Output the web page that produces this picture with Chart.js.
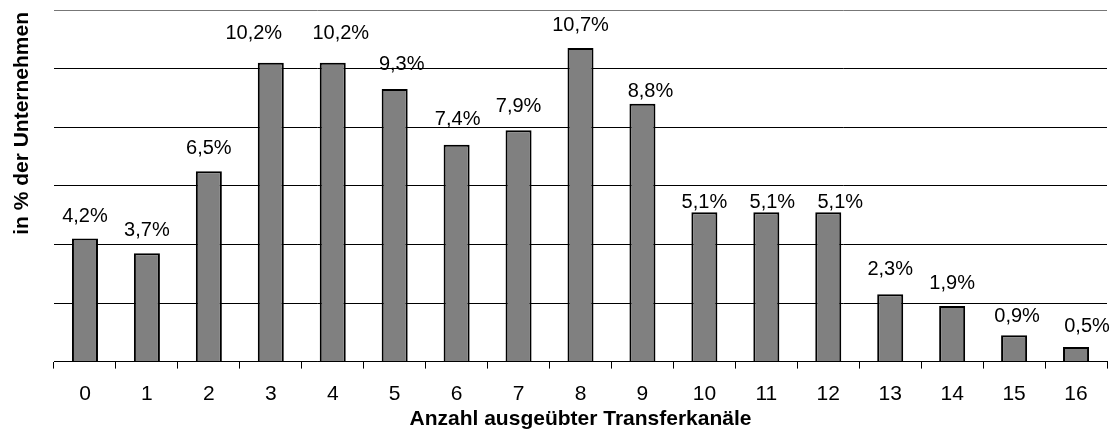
<!DOCTYPE html>
<html>
<head>
<meta charset="utf-8">
<script src="https://cdn.jsdelivr.net/npm/chart.js@4/dist/chart.umd.min.js"></script>
<style>
    html, body { margin: 0; padding: 0; background: #fff; }
    #wrap { width: 1114px; height: 435px; position: relative; }
</style>
</head>
<body>
<div id="wrap"><canvas id="transferChart"></canvas></div>
<script>
// Data
const categories = ['0', '1', '2', '3', '4', '5', '6', '7', '8', '9', '10', '11', '12', '13', '14', '15', '16'];
const shares = [4.2, 3.7, 6.5, 10.2, 10.2, 9.3, 7.4, 7.9, 10.7, 8.8, 5.1, 5.1, 5.1, 2.3, 1.9, 0.9, 0.5];
const valueLabels = ['4,2%', '3,7%', '6,5%', '10,2%', '10,2%', '9,3%', '7,4%', '7,9%', '10,7%', '8,8%', '5,1%', '5,1%', '5,1%', '2,3%', '1,9%', '0,9%', '0,5%'];
const yTitle = 'in % der Unternehmen';
const xTitle = 'Anzahl ausgeübter Transferkanäle';

// label nudges (px) relative to bar top, the original labels were placed by hand
const labelDx = [0, 0, 0, -17, 8, 7, 1, 0, 0, 8, 0, 6, 12, 0, 0, 3, 11];
const labelDy = [-22, -23, -23, -29, -29, -25, -25, -24, -23, -12, -10, -10, -10, -25, -22, -19, -20];

const FONT = '"Liberation Sans", Arial, sans-serif';

// draws the percentage labels above the bars + the y title (sits near the top, not centred)
const barLabels = {
    id: 'barLabels',
    afterDatasetsDraw(chart) {
        const ctx = chart.ctx;
        const meta = chart.getDatasetMeta(0);
        ctx.save();
        ctx.font = '20px ' + FONT;
        ctx.fillStyle = '#000';
        ctx.textAlign = 'center';
        ctx.textBaseline = 'middle';
        meta.data.forEach((bar, i) => {
            ctx.fillText(valueLabels[i], bar.x + labelDx[i], bar.y + labelDy[i]);
        });
        ctx.restore();

        ctx.save();
        ctx.font = 'bold 21px ' + FONT;
        ctx.fillStyle = '#000';
        ctx.translate(chart.chartArea.left - 32, chart.chartArea.top + 2);
        ctx.rotate(-Math.PI / 2);
        ctx.textAlign = 'right';
        ctx.textBaseline = 'middle';
        ctx.fillText(yTitle, 0, 0);
        ctx.restore();
    }
};

const ctx = document.getElementById('transferChart').getContext('2d');
new Chart(ctx, {
    type: 'bar',
    data: {
        labels: categories,
        datasets: [{
            data: shares,
            backgroundColor: '#808080',
            borderColor: '#000',
            borderWidth: 2,
            borderSkipped: 'bottom',
            barPercentage: 0.42,
            categoryPercentage: 1
        }]
    },
    options: {
        responsive: true,
        maintainAspectRatio: false,
        animation: false,
        layout: {
            padding: { top: 10, right: 7, bottom: 3, left: 54 }
        },
        plugins: {
            legend: { display: false },
            tooltip: { enabled: false }
        },
        scales: {
            x: {
                offset: true,
                grid: {
                    display: true,
                    offset: true,
                    drawOnChartArea: false,
                    drawTicks: true,
                    tickLength: 7,
                    color: '#000'
                },
                border: { display: true, color: '#000', width: 1 },
                ticks: {
                    color: '#000',
                    font: { family: FONT, size: 21 },
                    padding: 13,
                    maxRotation: 0,
                    autoSkip: false
                },
                title: {
                    display: true,
                    text: xTitle,
                    color: '#000',
                    font: { family: FONT, size: 21, weight: 'bold' },
                    padding: { top: -13, bottom: 0 }
                }
            },
            y: {
                min: 0,
                max: 12,
                ticks: { display: false, stepSize: 2 },
                grid: {
                    drawTicks: false,
                    color: (c) => c.tick && c.tick.value === 12 ? '#777' : '#000',
                    lineWidth: 1
                },
                border: { display: false },
                afterFit: (scale) => { scale.width = 0; }
            }
        }
    },
    plugins: [barLabels]
});
</script>
</body>
</html>
